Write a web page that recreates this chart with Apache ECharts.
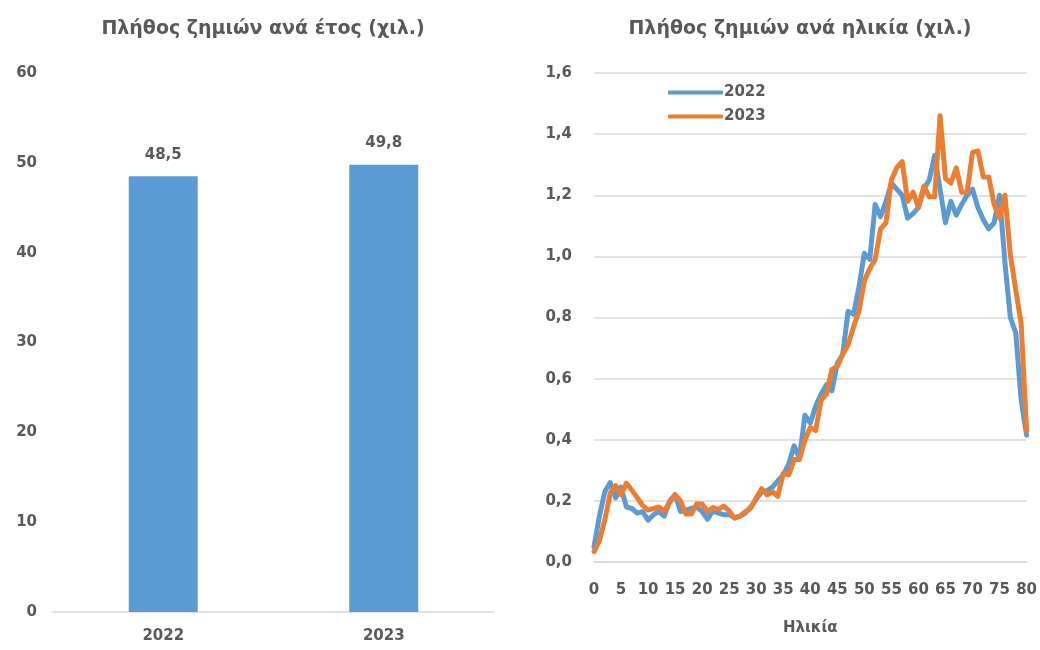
<!DOCTYPE html>
<html>
<head>
<meta charset="utf-8">
<script src="https://cdn.jsdelivr.net/npm/echarts@6/dist/echarts.min.js"></script>
<style>
html,body{margin:0;padding:0;background:#fff;}
#c{width:1040px;height:650px;}
</style>
</head>
<body>
<div id="c"></div>
<script>
// Left chart: claims per year (thousands)
const years = ['2022', '2023'];
const claimsPerYear = [48.5, 49.8];

// Right chart: claims per age (thousands)
const ages = [];
for (let a = 0; a <= 80; a++) ages.push(String(a));
const claims2022 = [
  0.05, 0.15, 0.23, 0.26, 0.21, 0.245, 0.18, 0.175, 0.16, 0.165,
  0.137, 0.155, 0.165, 0.15, 0.20, 0.22, 0.165, 0.17, 0.175, 0.18,
  0.165, 0.14, 0.167, 0.16, 0.155, 0.155, 0.145, 0.15, 0.16, 0.18,
  0.205, 0.23, 0.233, 0.245, 0.265, 0.285, 0.32, 0.38, 0.34, 0.48,
  0.455, 0.51, 0.55, 0.58, 0.56, 0.65, 0.68, 0.82, 0.81, 0.90,
  1.01, 0.99, 1.17, 1.13, 1.18, 1.24, 1.22, 1.20, 1.125, 1.14,
  1.16, 1.22, 1.25, 1.33, 1.22, 1.11, 1.18, 1.135, 1.17, 1.20,
  1.22, 1.16, 1.12, 1.09, 1.11, 1.20, 0.98, 0.80, 0.75, 0.53,
  0.415
];
const claims2023 = [
  0.034, 0.07, 0.137, 0.225, 0.25, 0.22, 0.258, 0.235, 0.21, 0.185,
  0.17, 0.175, 0.18, 0.167, 0.195, 0.22, 0.20, 0.157, 0.157, 0.19,
  0.19, 0.165, 0.178, 0.172, 0.183, 0.167, 0.143, 0.15, 0.165, 0.176,
  0.21, 0.24, 0.22, 0.23, 0.215, 0.29, 0.285, 0.335, 0.335, 0.40,
  0.44, 0.43, 0.53, 0.55, 0.63, 0.64, 0.68, 0.71, 0.77, 0.82,
  0.92, 0.96, 0.99, 1.09, 1.11, 1.25, 1.29, 1.31, 1.18, 1.21,
  1.16, 1.23, 1.195, 1.195, 1.46, 1.255, 1.24, 1.29, 1.21, 1.21,
  1.34, 1.345, 1.26, 1.26, 1.17, 1.125, 1.20, 1.005, 0.89, 0.78,
  0.43
];

const TXT = '#595959';
const GRIDC = '#d9d9d9';
const FONT = '"DejaVu Sans", sans-serif';
const BLUE = '#5B9BD5';
const ORANGE = '#ED7D31';
const FS = 15;
const comma1 = v => Number(v).toFixed(1).replace('.', ',');

const chart = echarts.init(document.getElementById('c'), null, {renderer: 'canvas'});
chart.setOption({
  backgroundColor: '#fff',
  animation: false,
  textStyle: {fontFamily: FONT, color: TXT},
  title: [
    {text: 'Πλήθος ζημιών ανά έτος (χιλ.)', left: 258, top: 15, textAlign: 'center',
     textStyle: {fontFamily: FONT, fontSize: 19, fontWeight: 'bold', color: TXT}},
    {text: 'Πλήθος ζημιών ανά ηλικία (χιλ.)', left: 795, top: 15, textAlign: 'center',
     textStyle: {fontFamily: FONT, fontSize: 19, fontWeight: 'bold', color: TXT}}
  ],
  legend: {
    data: ['2022', '2023'],
    orient: 'vertical',
    left: 663, top: 80,
    itemWidth: 55, itemHeight: 4, itemGap: 9,
    icon: 'roundRect',
    textStyle: {fontFamily: FONT, fontSize: FS, fontWeight: 'bold', color: TXT, padding: [0, 0, 0, -4]}
  },
  grid: [
    {left: 53, right: 1040 - 494, top: 73, bottom: 38, containLabel: false},
    {left: 594, right: 13, top: 73, bottom: 88, containLabel: false}
  ],
  xAxis: [
    {gridIndex: 0, type: 'category', data: years,
     axisLine: {show: true, lineStyle: {color: GRIDC, width: 1.5}},
     axisTick: {show: false},
     axisLabel: {margin: 17, fontFamily: FONT, fontSize: FS, fontWeight: 'bold', color: TXT}},
    {gridIndex: 1, type: 'category', data: ages, boundaryGap: false,
     name: 'Ηλικία', nameLocation: 'middle', nameGap: 59,
     nameTextStyle: {fontFamily: FONT, fontSize: FS, fontWeight: 'bold', color: TXT},
     axisLine: {show: true, lineStyle: {color: GRIDC, width: 1.5}},
     axisTick: {show: false},
     axisLabel: {interval: 4, margin: 21, fontFamily: FONT, fontSize: FS, fontWeight: 'bold', color: TXT}}
  ],
  yAxis: [
    {gridIndex: 0, type: 'value', min: 0, max: 60, interval: 10,
     axisLine: {show: false}, axisTick: {show: false},
     splitLine: {show: false},
     axisLabel: {margin: 16, fontFamily: FONT, fontSize: FS, fontWeight: 'bold', color: TXT}},
    {gridIndex: 1, type: 'value', min: 0, max: 1.6, interval: 0.2,
     axisLine: {show: false}, axisTick: {show: false},
     splitLine: {show: true, lineStyle: {color: GRIDC, width: 1.5}},
     axisLabel: {margin: 22, formatter: comma1, fontFamily: FONT, fontSize: FS, fontWeight: 'bold', color: TXT}}
  ],
  series: [
    {type: 'bar', xAxisIndex: 0, yAxisIndex: 0, data: claimsPerYear,
     barWidth: 69, itemStyle: {color: BLUE},
     label: {show: true, position: 'top', distance: 14, formatter: p => comma1(p.value),
             fontFamily: FONT, fontSize: FS, fontWeight: 'bold', color: TXT}},
    {name: '2022', type: 'line', xAxisIndex: 1, yAxisIndex: 1, data: claims2022,
     showSymbol: false, symbol: 'none', lineStyle: {color: BLUE, width: 5, join: 'round', cap: 'round'},
     itemStyle: {color: BLUE}},
    {name: '2023', type: 'line', xAxisIndex: 1, yAxisIndex: 1, data: claims2023,
     showSymbol: false, symbol: 'none', lineStyle: {color: ORANGE, width: 5, join: 'round', cap: 'round'},
     itemStyle: {color: ORANGE}}
  ]
});
</script>
</body>
</html>
